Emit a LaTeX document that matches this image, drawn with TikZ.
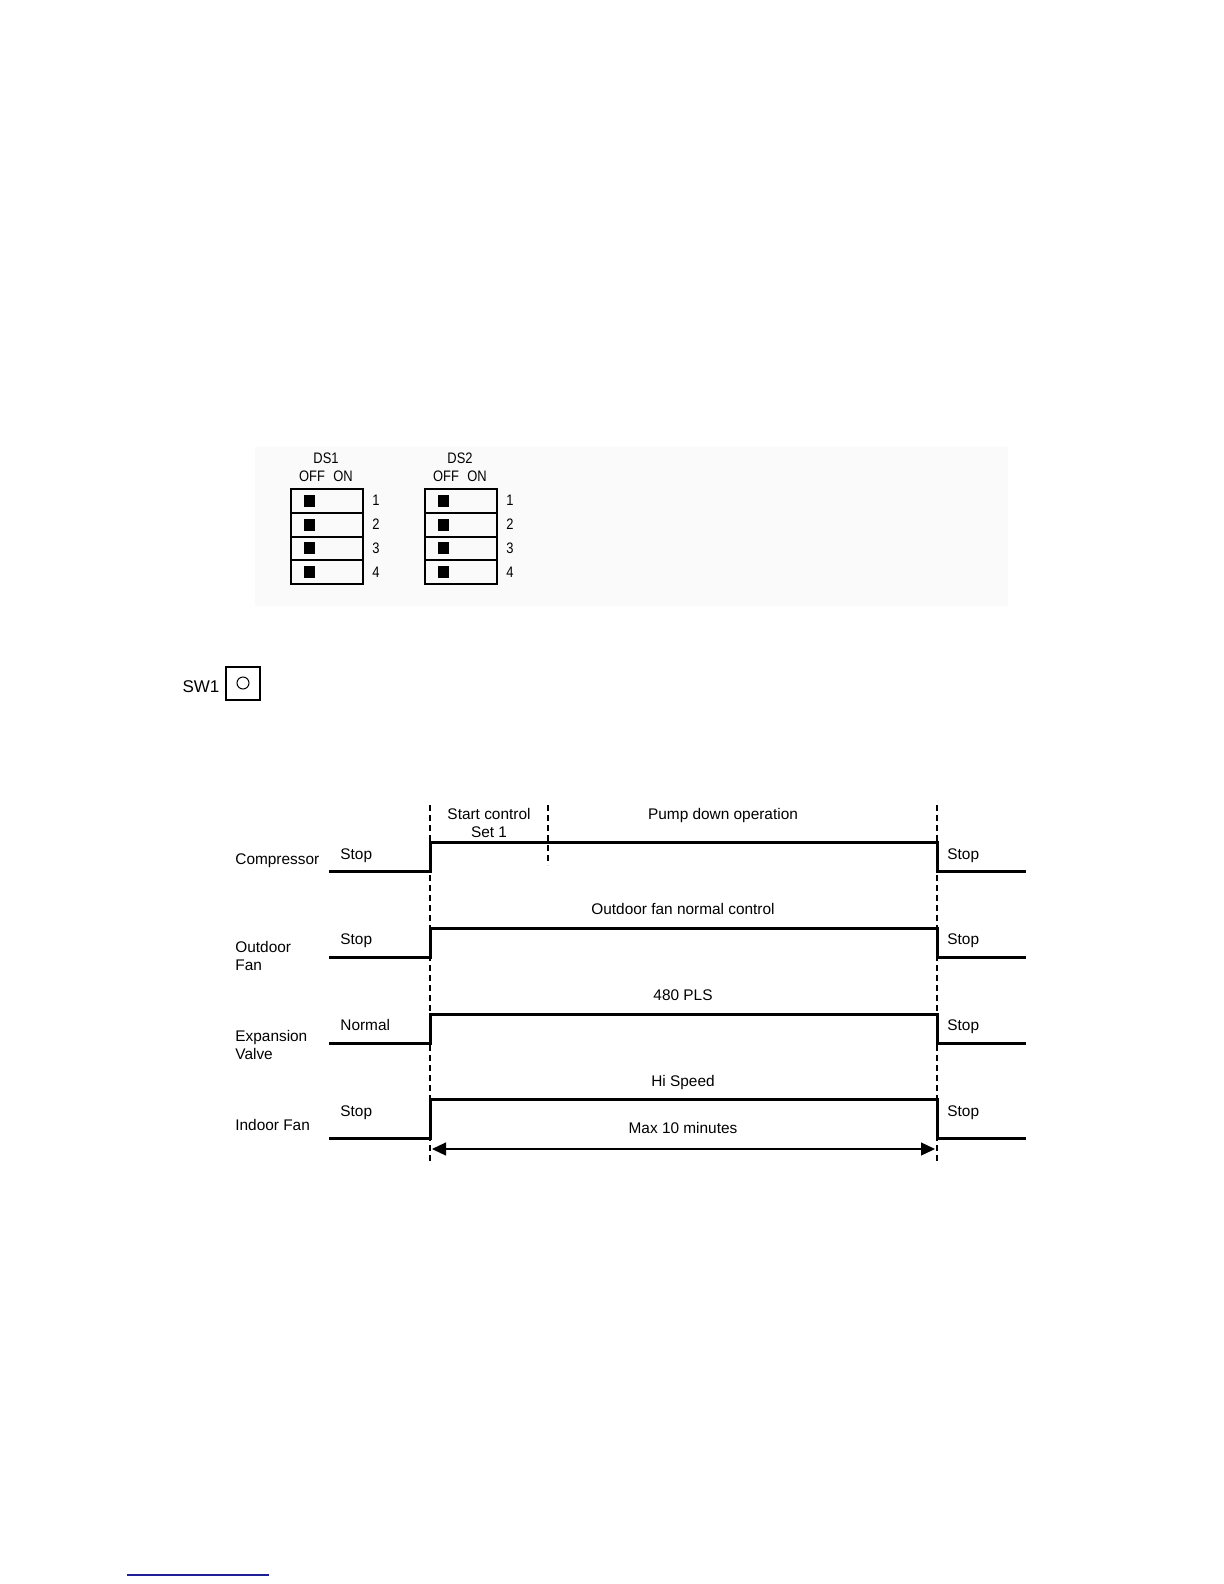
\documentclass[tikz,border=0pt]{standalone}
\usepackage{fontspec}
\setmainfont{Liberation Sans}
\newfontfamily\narrowfont[FakeStretch=0.85]{Liberation Sans}
\usetikzlibrary{arrows.meta}
\definecolor{linkblue}{RGB}{30,30,150}
\definecolor{panelgray}{RGB}{250,250,250}
\begin{document}
\begin{tikzpicture}[x=0.5pt,y=-0.5pt,
  lbl/.style={font=\fontsize{7.7}{9}\selectfont, inner sep=0pt, anchor=base},
  lblw/.style={lbl, anchor=base west},
  dsl/.style={font=\narrowfont\fontsize{7.6}{9}\selectfont, inner sep=0pt, anchor=base},
  sig/.style={line width=1.5pt, line join=miter},
  guide/.style={line width=0.6pt, dash pattern=on 3pt off 2pt},
  dsbox/.style={draw, line width=1pt},
]
\useasboundingbox (0,0) rectangle (1224,1584);
\fill[white] (0,0) rectangle (1224,1584);

% DIP switch panel
\fill[panelgray] (255,447) rectangle (1008,606);
\foreach \bx/\nm in {291/DS1, 425/DS2} {
  \node[dsl] (\nm-t) at (\bx+35,463) {\nm};
  \node[dsl] (\nm-off) at (\bx+21,481) {OFF};
  \node[dsl] (\nm-on) at (\bx+52,481) {ON};
  \foreach \i in {1,2,3,4} {
    \pgfmathsetmacro{\ty}{489+(\i-1)*23.75}
    \pgfmathsetmacro{\by}{489+\i*23.75}
    \pgfmathsetmacro{\my}{489+(\i-0.5)*23.75}
    \draw[dsbox] (\bx,\ty) rectangle (\bx+72,\by);
    \fill (\bx+13,\my-6) rectangle (\bx+24,\my+6);
    \node[dsl] (\nm-n\i) at (\bx+85,\my+5) {\i};
  }
}

% SW1
\node[lbl, font=\fontsize{8.5}{10}\selectfont] (sw1) at (201,692) {SW1};
\draw[dsbox] (226,667) rectangle (260,700);
\draw[line width=0.5pt] (243,683) circle (6);

% timing chart labels
\node[lblw] (comp) at (235,864) {Compressor};
\node[lblw] (ofan1) at (235,952) {Outdoor};
\node[lblw] (ofan2) at (235,970) {Fan};
\node[lblw] (exv1) at (235,1041) {Expansion};
\node[lblw] (exv2) at (235,1059) {Valve};
\node[lblw] (ifan) at (235,1130) {Indoor Fan};

% guides
\draw[guide] (430,805) -- (430,1163);
\draw[guide] (937,805) -- (937,1163);
\draw[guide] (548,805) -- (548,865);

% signals
\draw[sig] (329,871) -- (430,871) -- (430,842) -- (937,842) -- (937,871) -- (1026,871);
\draw[sig] (329,957) -- (430,957) -- (430,928) -- (937,928) -- (937,957) -- (1026,957);
\draw[sig] (329,1043) -- (430,1043) -- (430,1014) -- (937,1014) -- (937,1043) -- (1026,1043);
\draw[sig] (329,1138) -- (430,1138) -- (430,1099) -- (937,1099) -- (937,1138) -- (1026,1138);

% state labels
\node[lblw] (s1l) at (340,859) {Stop};
\node[lblw] (s2l) at (340,944) {Stop};
\node[lblw] (s3l) at (340,1030) {Normal};
\node[lblw] (s4l) at (340,1116) {Stop};
\node[lblw] (s1r) at (947,859) {Stop};
\node[lblw] (s2r) at (947,944) {Stop};
\node[lblw] (s3r) at (947,1030) {Stop};
\node[lblw] (s4r) at (947,1116) {Stop};

\node[lbl] (start1) at (489,819) {Start control};
\node[lbl] (start2) at (489,837) {Set 1};
\node[lbl] (pump) at (723,819) {Pump down operation};
\node[lbl] (ofnc) at (683,914) {Outdoor fan normal control};
\node[lbl] (pls) at (683,1000) {480 PLS};
\node[lbl] (hisp) at (683,1086) {Hi Speed};
\node[lbl] (max10) at (683,1133) {Max 10 minutes};

% duration arrow
\coordinate (aL) at (432,1149);
\coordinate (aR) at (935,1149);
\draw[line width=0.6pt, {Triangle[length=7pt,width=6.5pt]}-{Triangle[length=7pt,width=6.5pt]}] (aL) -- (aR);

% footnote rule
\draw[linkblue, line width=0.7pt] (127,1575) -- (269,1575);
\end{tikzpicture}
\end{document}
